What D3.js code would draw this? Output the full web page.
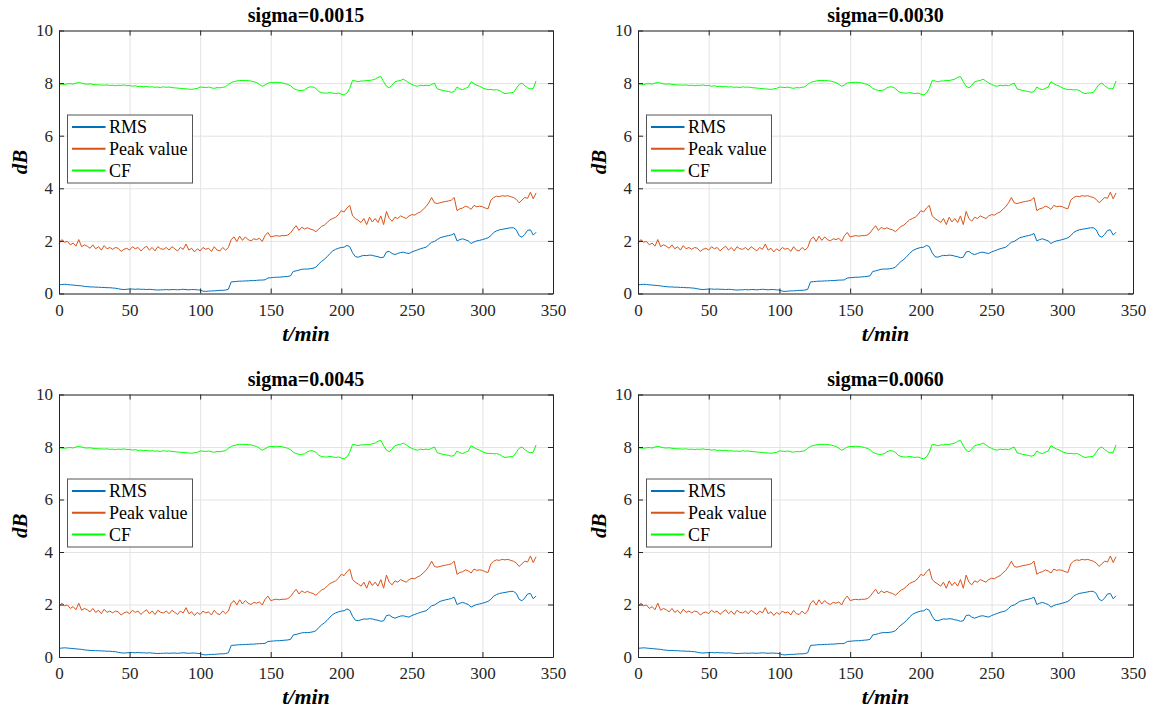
<!DOCTYPE html>
<html>
<head>
<meta charset="utf-8">
<script src="https://cdn.jsdelivr.net/npm/d3@7"></script>
<style>
  html, body { margin: 0; padding: 0; background: #fff; }
  svg { display: block; }
  svg text { font-family: "Liberation Serif", "Times New Roman", "DejaVu Serif", serif; }
</style>
</head>
<body>
<svg id="chart" width="1165" height="712"></svg>
<script>
// Sampling instants (minutes), one every 2 min
const minutes = d3.range(0, 340, 2);

// RMS level, dB
const rmsValues = [
  0.33,0.34,0.35,0.34,0.33,0.32,0.31,0.30,0.29,0.27,
  0.26,0.25,0.25,0.24,0.24,0.23,0.23,0.22,0.22,0.21,
  0.20,0.18,0.16,0.15,0.16,0.17,0.17,0.16,0.17,0.16,
  0.16,0.15,0.16,0.15,0.14,0.13,0.14,0.14,0.15,0.14,
  0.15,0.15,0.14,0.15,0.16,0.15,0.14,0.15,0.15,0.14,
  0.13,0.09,0.08,0.09,0.10,0.10,0.11,0.12,0.12,0.13,
  0.16,0.44,0.45,0.46,0.47,0.47,0.48,0.48,0.49,0.49,
  0.50,0.51,0.51,0.52,0.59,0.60,0.61,0.62,0.62,0.63,
  0.64,0.65,0.67,0.84,0.86,0.89,0.92,0.93,0.93,0.94,
  0.96,1.00,1.12,1.22,1.30,1.40,1.52,1.62,1.68,1.72,
  1.75,1.76,1.83,1.78,1.55,1.40,1.38,1.42,1.45,1.44,
  1.46,1.45,1.42,1.40,1.36,1.38,1.58,1.60,1.52,1.48,
  1.52,1.56,1.57,1.54,1.52,1.58,1.62,1.66,1.70,1.73,
  1.76,1.85,1.95,1.98,2.05,2.12,2.15,2.18,2.20,2.23,
  2.28,2.00,2.05,2.08,2.04,2.00,1.90,1.96,2.00,2.02,
  2.05,2.08,2.12,2.20,2.32,2.38,2.42,2.44,2.46,2.48,
  2.50,2.50,2.42,2.20,2.14,2.25,2.40,2.42,2.22,2.33
];

// Peak value, dB
const peakValues = [
  1.90,2.05,1.95,1.98,1.85,1.92,1.80,2.05,1.78,1.85,
  1.80,1.72,1.85,1.70,1.78,1.65,1.82,1.70,1.75,1.68,
  1.75,1.72,1.60,1.68,1.72,1.65,1.78,1.70,1.75,1.62,
  1.72,1.80,1.65,1.75,1.62,1.78,1.70,1.68,1.75,1.65,
  1.78,1.70,1.62,1.75,1.68,1.88,1.65,1.72,1.58,1.70,
  1.62,1.75,1.68,1.72,1.60,1.78,1.65,1.62,1.75,1.65,
  1.75,2.05,2.15,1.98,2.18,2.02,2.15,2.05,2.00,2.08,
  2.05,2.10,1.98,2.20,2.32,2.15,2.18,2.20,2.18,2.20,
  2.20,2.22,2.30,2.45,2.58,2.40,2.52,2.45,2.50,2.45,
  2.42,2.35,2.45,2.55,2.60,2.70,2.80,2.85,2.90,3.00,
  3.15,3.10,3.25,3.35,2.95,2.85,2.78,2.70,2.85,2.62,
  2.90,2.72,2.85,2.70,2.95,2.62,3.12,2.85,2.75,2.90,
  2.85,2.95,2.90,2.85,2.95,3.00,2.98,3.05,3.10,3.20,
  3.30,3.45,3.65,3.45,3.42,3.45,3.48,3.50,3.52,3.55,
  3.65,3.15,3.22,3.25,3.32,3.28,3.20,3.35,3.30,3.32,
  3.30,3.25,3.22,3.55,3.65,3.70,3.68,3.72,3.70,3.72,
  3.68,3.65,3.58,3.45,3.55,3.65,3.62,3.85,3.60,3.82
];

// Crest factor, dB
const cfValues = [
  7.97,7.96,7.95,7.97,7.98,7.96,8.00,8.02,8.00,7.97,
  7.96,7.97,7.95,7.94,7.93,7.93,7.92,7.93,7.91,7.92,
  7.90,7.92,7.91,7.93,7.90,7.91,7.88,7.90,7.87,7.88,
  7.86,7.87,7.85,7.86,7.84,7.85,7.83,7.86,7.84,7.85,
  7.83,7.82,7.81,7.80,7.79,7.78,7.77,7.76,7.78,7.80,
  7.85,7.84,7.83,7.85,7.82,7.80,7.83,7.82,7.84,7.86,
  7.95,8.02,8.06,8.08,8.10,8.10,8.10,8.09,8.08,8.05,
  8.02,7.95,7.88,7.93,8.00,8.02,8.02,8.03,8.02,8.01,
  7.98,7.95,7.90,7.80,7.75,7.72,7.72,7.74,7.82,7.86,
  7.85,7.80,7.68,7.64,7.62,7.62,7.64,7.62,7.60,7.62,
  7.58,7.55,7.62,7.80,8.10,8.08,8.05,8.08,8.08,8.10,
  8.10,8.12,8.15,8.22,8.25,8.05,7.88,7.82,7.92,8.05,
  8.08,8.10,8.15,8.08,8.00,7.95,7.90,7.88,7.92,7.90,
  7.92,7.90,7.95,8.00,7.78,7.75,7.72,7.70,7.68,7.65,
  7.68,7.85,7.78,7.75,7.80,7.85,8.05,7.98,7.92,7.88,
  7.82,7.78,7.75,7.76,7.74,7.75,7.72,7.65,7.60,7.62,
  7.63,7.65,7.80,7.95,8.00,7.90,7.82,7.78,7.80,8.08
];

const seriesNames = ["RMS", "Peak value", "CF"];
const seriesColors = ["#0072BD", "#D95319", "#00FF00"];
const panelTitles = ["sigma=0.0015", "sigma=0.0030", "sigma=0.0045", "sigma=0.0060"];
const xTicks = [0, 50, 100, 150, 200, 250, 300, 350];
const yTicks = [0, 2, 4, 6, 8, 10];

const seriesList = [rmsValues, peakValues, cfValues];

// Plot-box frames for the 2x2 grid
const frames = [
  { x0: 59,  x1: 553,  y0: 30.5,  y1: 293.5 },
  { x0: 638, x1: 1133, y0: 30.5,  y1: 293.5 },
  { x0: 59,  x1: 553,  y0: 394.5, y1: 657 },
  { x0: 638, x1: 1133, y0: 394.5, y1: 657 }
];

const svg = d3.select("#chart");
const axisColor = "#262626";
const serif = "'Liberation Serif', 'Times New Roman', 'DejaVu Serif', serif";

function drawPanel(frame, title) {
  const w = frame.x1 - frame.x0, h = frame.y1 - frame.y0;
  const g = svg.append("g").attr("transform", `translate(${frame.x0},${frame.y0})`);
  const x = d3.scaleLinear().domain([0, 350]).range([0, w]);
  const y = d3.scaleLinear().domain([0, 10]).range([h, 0]);

  // grid
  g.append("g").attr("transform", `translate(0,${h})`)
    .call(d3.axisBottom(x).tickValues(xTicks).tickSize(-h).tickFormat(""))
    .call(s => s.select(".domain").remove())
    .call(s => s.selectAll("line").attr("stroke", "#e3e3e3").attr("stroke-width", 1));
  g.append("g")
    .call(d3.axisLeft(y).tickValues(yTicks).tickSize(-w).tickFormat(""))
    .call(s => s.select(".domain").remove())
    .call(s => s.selectAll("line").attr("stroke", "#e3e3e3").attr("stroke-width", 1));

  // data lines
  const line = d3.line().x((d, i) => x(minutes[i])).y(d => y(d));
  seriesList.forEach((vals, k) => {
    g.append("path").datum(vals)
      .attr("fill", "none")
      .attr("stroke", seriesColors[k])
      .attr("stroke-width", 1)
      .attr("d", line);
  });

  // axes with inward ticks on all four sides
  const styleAxis = s => {
    s.attr("font-family", serif).attr("font-size", 17);
    s.select(".domain").attr("stroke", axisColor).attr("stroke-width", 1);
    s.selectAll(".tick line").attr("stroke", axisColor);
    s.selectAll(".tick text").attr("fill", axisColor)
      .style("font-family", serif).attr("font-size", 17);
  };
  g.append("g").attr("transform", `translate(0,${h})`)
    .call(d3.axisBottom(x).tickValues(xTicks).tickSizeInner(-5).tickSizeOuter(0).tickPadding(10).tickFormat(d3.format("d")))
    .call(styleAxis);
  g.append("g")
    .call(d3.axisLeft(y).tickValues(yTicks).tickSizeInner(-5).tickSizeOuter(0).tickPadding(6).tickFormat(d3.format("d")))
    .call(styleAxis);
  g.append("g")
    .call(d3.axisTop(x).tickValues(xTicks).tickSizeInner(-5).tickSizeOuter(0).tickFormat(""))
    .call(styleAxis);
  g.append("g").attr("transform", `translate(${w},0)`)
    .call(d3.axisRight(y).tickValues(yTicks).tickSizeInner(-5).tickSizeOuter(0).tickFormat(""))
    .call(styleAxis);

  // title and axis labels
  g.append("text").attr("x", w / 2).attr("y", -9)
    .attr("text-anchor", "middle").attr("font-weight", "bold").attr("font-size", 20)
    .attr("fill", "#000").text(title);
  g.append("text").attr("x", w / 2).attr("y", h + 47)
    .attr("text-anchor", "middle").attr("font-weight", "bold").attr("font-style", "italic")
    .attr("font-size", 22).attr("fill", "#000").text("t/min");
  g.append("text")
    .attr("transform", `translate(${-32},${h / 2}) rotate(-90)`)
    .attr("text-anchor", "middle").attr("font-weight", "bold").attr("font-style", "italic")
    .attr("font-size", 21).attr("fill", "#000").text("dB");

  // legend
  const lg = g.append("g").attr("transform", `translate(8.5,${84.5})`);
  lg.append("rect").attr("width", 125).attr("height", 68)
    .attr("fill", "#fff").attr("stroke", "#555").attr("stroke-width", 1);
  seriesNames.forEach((name, k) => {
    const yy = 12 + k * 21.8;
    lg.append("line").attr("x1", 4.5).attr("x2", 38).attr("y1", yy).attr("y2", yy)
      .attr("stroke", seriesColors[k]).attr("stroke-width", 2);
    lg.append("text").attr("x", 41.5).attr("y", yy + 6)
      .attr("font-size", 18).attr("fill", "#000").text(name);
  });
}

frames.forEach((f, i) => drawPanel(f, panelTitles[i]));
</script>
</body>
</html>
